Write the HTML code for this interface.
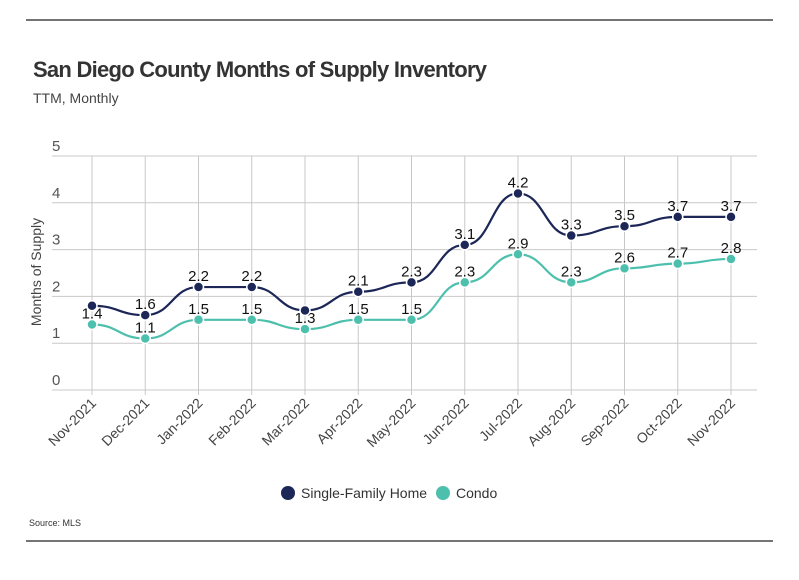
<!DOCTYPE html>
<html><head><meta charset="utf-8"><style>
body{margin:0;background:#fff;width:799px;height:575px;overflow:hidden;font-family:"Liberation Sans",sans-serif;}
</style></head><body>
<svg width="799" height="575" xmlns="http://www.w3.org/2000/svg">
<line x1="26" y1="20" x2="773" y2="20" stroke="#222" stroke-width="1.2"/>
<text x="33" y="77" font-size="22" font-weight="bold" fill="#333" textLength="454">San Diego County Months of Supply Inventory</text>
<text x="33" y="103" font-size="14" fill="#444">TTM, Monthly</text>
<g id="grid"></g>
<text transform="translate(41,272) rotate(-90)" text-anchor="middle" font-size="14" fill="#444">Months of Supply</text>
<g id="series"></g>
<g id="xlabels"></g>
<g>
<g><circle cx="288" cy="493" r="7" fill="#1c2657"/><text x="301" y="498" font-size="14" fill="#333">Single-Family Home</text></g>
<g><circle cx="443" cy="493" r="7" fill="#4dbfad"/><text x="456" y="498" font-size="14" fill="#333">Condo</text></g>
</g>
<text x="29" y="526" font-size="9" fill="#333">Source:  MLS</text>
<line x1="26" y1="541" x2="773" y2="541" stroke="#222" stroke-width="1.2"/>
</svg>
<script>
const categories=["Nov-2021","Dec-2021","Jan-2022","Feb-2022","Mar-2022","Apr-2022","May-2022","Jun-2022","Jul-2022","Aug-2022","Sep-2022","Oct-2022","Nov-2022"];
const sfhValues=[1.8,1.6,2.2,2.2,1.7,2.1,2.3,3.1,4.2,3.3,3.5,3.7,3.7];
const condoValues=[1.4,1.1,1.5,1.5,1.3,1.5,1.5,2.3,2.9,2.3,2.6,2.7,2.8];
const sfhLabels=["","1.6","2.2","2.2","","2.1","2.3","3.1","4.2","3.3","3.5","3.7","3.7"];
const condoLabels=["1.4","1.1","1.5","1.5","1.3","1.5","1.5","2.3","2.9","2.3","2.6","2.7","2.8"];
const yTicks=[0,1,2,3,4,5];
const NS="http://www.w3.org/2000/svg";
const x=i=>92+i*53.25, y=v=>390-v*46.8;
function mk(t,a,p){const e=document.createElementNS(NS,t);for(const k in a)e.setAttribute(k,a[k]);p.appendChild(e);return e;}
const grid=document.getElementById('grid');
yTicks.forEach(t=>{
 const l=mk('line',{x1:52,x2:757,y1:y(t),y2:y(t),stroke:'#c8c8c8','stroke-width':1},grid);
 
 
 const tx=mk('text',{x:52,y:y(t)-5,'font-size':15,fill:'#555'},grid);tx.textContent=t;
 
 
});
categories.forEach((c,i)=>{
 const l=mk('line',{x1:x(i),x2:x(i),y1:y(5),y2:y(0)+5,stroke:'#c8c8c8','stroke-width':1},grid);
 
 
 const tx=mk('text',{transform:`translate(${x(i)+5},${y(0)+14}) rotate(-45)`,'text-anchor':'end','font-size':14,fill:'#444'},document.getElementById('xlabels'));
 tx.textContent=c;
 
 
});
function path(vals){
 const p=vals.map((v,i)=>[x(i),y(v)]);let d=`M${p[0][0]},${p[0][1]}`;
 for(let i=0;i<p.length-1;i++){const dx=(p[i+1][0]-p[i][0])/2;d+=` C${p[i][0]+dx},${p[i][1]} ${p[i+1][0]-dx},${p[i+1][1]} ${p[i+1][0]},${p[i+1][1]}`;}
 return d;}
const sg=document.getElementById('series');
function draw(vals,labels,color,name){
 const g=mk('g',{},sg);
 
 
 mk('path',{d:path(vals),fill:'none',stroke:color,'stroke-width':2.2},g);
 vals.forEach((v,i)=>{
  const c=mk('circle',{cx:x(i),cy:y(v),r:5,fill:color,stroke:'#fff','stroke-width':1.5},g);
  
  
  if(labels[i]){const t=mk('text',{x:x(i),y:y(v)-6,'text-anchor':'middle','font-size':15,fill:'#111'},g);t.textContent=labels[i];
  
  }
 });
}
draw(condoValues,condoLabels,'#4dbfad','condo');
draw(sfhValues,sfhLabels,'#1c2657','single-family');
</script>
</body></html>
